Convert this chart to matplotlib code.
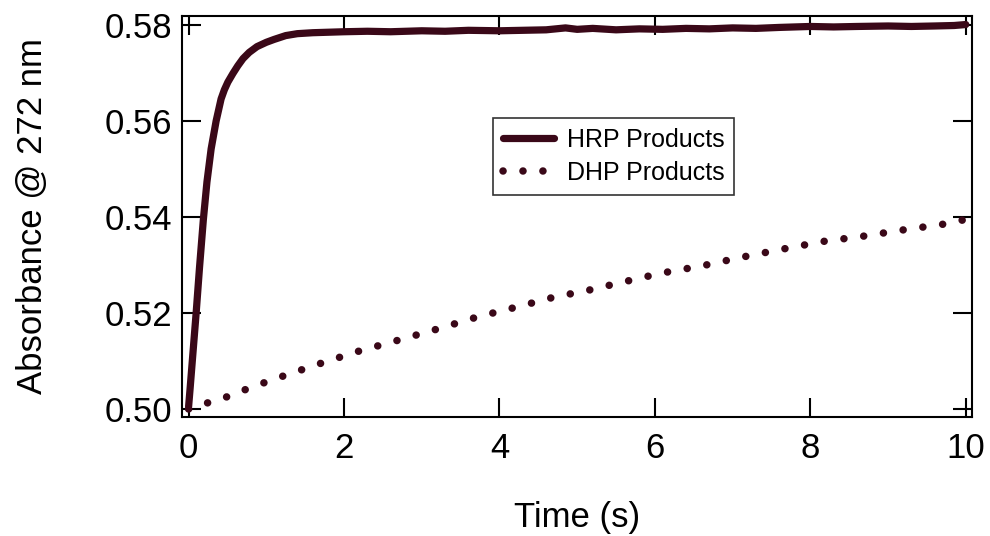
import matplotlib
matplotlib.use("Agg")
import matplotlib.pyplot as plt

# HRP products (solid)
hrp_t = [0.0, 0.02, 0.054, 0.097, 0.14, 0.19, 0.236, 0.29, 0.354, 0.418, 0.46, 0.505,
         0.57, 0.633, 0.70, 0.78, 0.88, 1.0, 1.1, 1.25, 1.4, 1.6, 1.8, 2.0, 2.3, 2.6,
         3.0, 3.3, 3.6, 4.0, 4.3, 4.6, 4.85, 5.0, 5.2, 5.5, 5.8, 6.1, 6.4, 6.7, 7.0,
         7.3, 7.6, 8.0, 8.3, 8.6, 9.0, 9.3, 9.6, 9.85, 10.0]
hrp_a = [0.5005, 0.5044, 0.5113, 0.5200, 0.5294, 0.5395, 0.5473, 0.5542, 0.5600, 0.5646, 0.5665, 0.5681,
         0.5699, 0.5715, 0.5730, 0.5743, 0.5755, 0.5764, 0.5770, 0.5778, 0.5782, 0.5784, 0.5785, 0.5786, 0.5787, 0.5786,
         0.5788, 0.5787, 0.5789, 0.5788, 0.5789, 0.5790, 0.5794, 0.5791, 0.5793, 0.5790, 0.5792, 0.5791, 0.5793, 0.5792,
         0.5794, 0.5793, 0.5795, 0.5797, 0.5796, 0.5797, 0.5798, 0.5797, 0.5798, 0.5799, 0.5801]

# DHP products (dotted)
dhp_t = [0.0, 0.14, 0.31, 0.53, 0.785, 1.17, 1.66, 2.18, 2.69, 3.21, 3.72, 4.26, 4.77,
         5.03, 5.55, 6.08, 6.6, 7.11, 7.64, 8.16, 8.68, 9.19, 9.71, 10.0]
dhp_a = [0.5000, 0.5006, 0.5017, 0.5027, 0.5044, 0.5066, 0.5093, 0.5120, 0.5143, 0.5167, 0.5192, 0.5214, 0.5236,
         0.5243, 0.5263, 0.5283, 0.5298, 0.5316, 0.5333, 0.5349, 0.5360, 0.5373, 0.5385, 0.5395]

x_ticks = [0, 2, 4, 6, 8, 10]
y_ticks = [0.50, 0.52, 0.54, 0.56, 0.58]
y_labels = ["0.50", "0.52", "0.54", "0.56", "0.58"]

color = "#3a0818"
plt.rcParams['font.family'] = ['Liberation Sans', 'DejaVu Sans']

fig = plt.figure(figsize=(9.9, 5.36), dpi=100)
ax = fig.add_axes([182/990, 1-417/536, (972-182)/990, (417-16)/536])

ax.plot(hrp_t, hrp_a, color=color, lw=5.2, solid_capstyle='round', solid_joinstyle='round',
        label="HRP Products", zorder=3)
ax.plot(dhp_t, dhp_a, color=color, lw=5.4, linestyle=(0, (0.01, 2.65)), dash_capstyle='round',
        label="DHP Products", zorder=3)

ax.set_xlim(-0.085, 10.08)
ax.set_ylim(0.49833, 0.58188)
ax.set_xticks(x_ticks)
ax.set_xticklabels([str(v) for v in x_ticks])
ax.set_yticks(y_ticks)
ax.set_yticklabels(y_labels)

for s in ax.spines.values():
    s.set_linewidth(1.5)
ax.tick_params(axis='both', direction='in', length=14, width=1.5, labelsize=25,
               top=True, right=True)
ax.tick_params(axis='x', pad=11)
ax.tick_params(axis='y', pad=7)

ax.set_xlabel("Time (s)", fontsize=25, labelpad=26)
ax.set_ylabel("Absorbance @ 272 nm", fontsize=25, labelpad=40)

leg = ax.legend(loc='upper left', bbox_to_anchor=(493/990, 1-118/536),
                bbox_transform=fig.transFigure, fontsize=18, frameon=True,
                fancybox=False, handlelength=2.05, handletextpad=0.5,
                borderpad=0.4, labelspacing=0.35, borderaxespad=0)
leg.get_frame().set_edgecolor('black')
leg.get_frame().set_linewidth(1.2)

fig.savefig("out.png", dpi=100)
